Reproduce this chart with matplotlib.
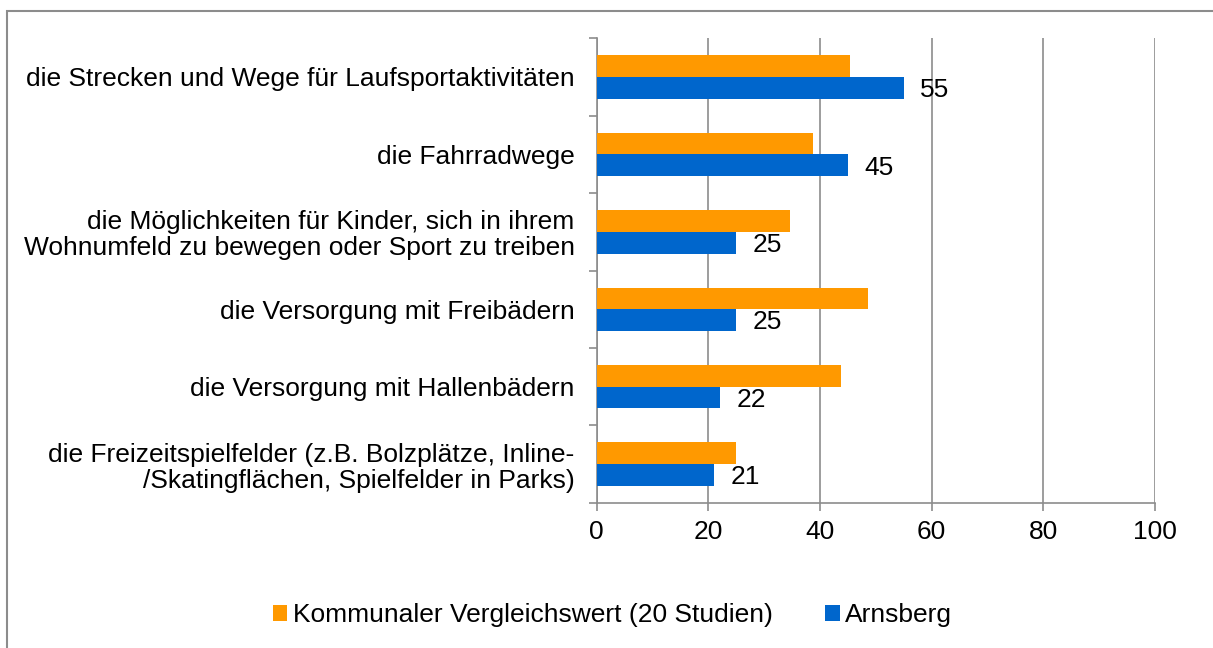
import numpy as np
import matplotlib.pyplot as plt
from matplotlib.patches import Rectangle

plt.rcParams['font.family'] = ['Liberation Sans', 'DejaVu Sans']

categories = [
    'die Strecken und Wege für Laufsportaktivitäten',
    'die Fahrradwege',
    'die Möglichkeiten für Kinder, sich in ihrem\nWohnumfeld zu bewegen oder Sport zu treiben',
    'die Versorgung mit Freibädern',
    'die Versorgung mit Hallenbädern',
    'die Freizeitspielfelder (z.B. Bolzplätze, Inline-\n/Skatingflächen, Spielfelder in Parks)',
]
vergleich = [45.3, 38.7, 34.6, 48.6, 43.7, 24.9]
arnsberg = [55, 45, 25, 25, 22, 21]
series_names = ['Kommunaler Vergleichswert (20 Studien)', 'Arnsberg']

ORG = '#FF9900'
BLU = '#0066CC'
GRY = '#8C8C8C'
FS = 19

fig = plt.figure(figsize=(12.13, 6.48), dpi=100)
ax = fig.add_axes([0.492, 0.224, 0.46, 0.717])

y = np.arange(len(categories))
h = 0.28
ax.barh(y - h/2, vergleich, height=h, color=ORG, label=series_names[0], zorder=3)
ax.barh(y + h/2, arnsberg, height=h, color=BLU, label=series_names[1], zorder=3)
for v, yy in zip(arnsberg, y):
    ax.text(v + 3, yy + h/2 + 0.03, str(v), va='center', ha='left', fontsize=FS, zorder=4)

ax.set_xlim(0, 100)
ax.set_ylim(len(categories) - 0.5, -0.5)
ax.set_xticks(np.arange(0, 101, 20))
ax.set_yticks(y)
ax.set_yticklabels(categories, fontsize=FS, linespacing=1.1)
ax.set_yticks(np.arange(-0.5, len(categories)), minor=True)
ax.tick_params(axis='y', which='major', length=0, pad=16)
ax.tick_params(axis='y', which='minor', length=6, color=GRY, width=1.2)
ax.tick_params(axis='x', length=6, color=GRY, width=1.2, labelsize=FS, pad=6)
ax.grid(axis='x', color=GRY, lw=1.2, zorder=0)
for s in ['top', 'right']:
    ax.spines[s].set_visible(False)
for s in ['left', 'bottom']:
    ax.spines[s].set_color(GRY)
    ax.spines[s].set_linewidth(1.2)

fig.legend(loc='center', bbox_to_anchor=(0.505, 0.051), ncol=2, frameon=False,
           fontsize=FS, handlelength=0.55, handleheight=0.55, handletextpad=0.2,
           columnspacing=2.0)

fig.patches.append(Rectangle((0.006, -0.1), 1.2, 1.083, transform=fig.transFigure,
                             fill=False, ec=GRY, lw=1.5))

plt.savefig('out.png')
